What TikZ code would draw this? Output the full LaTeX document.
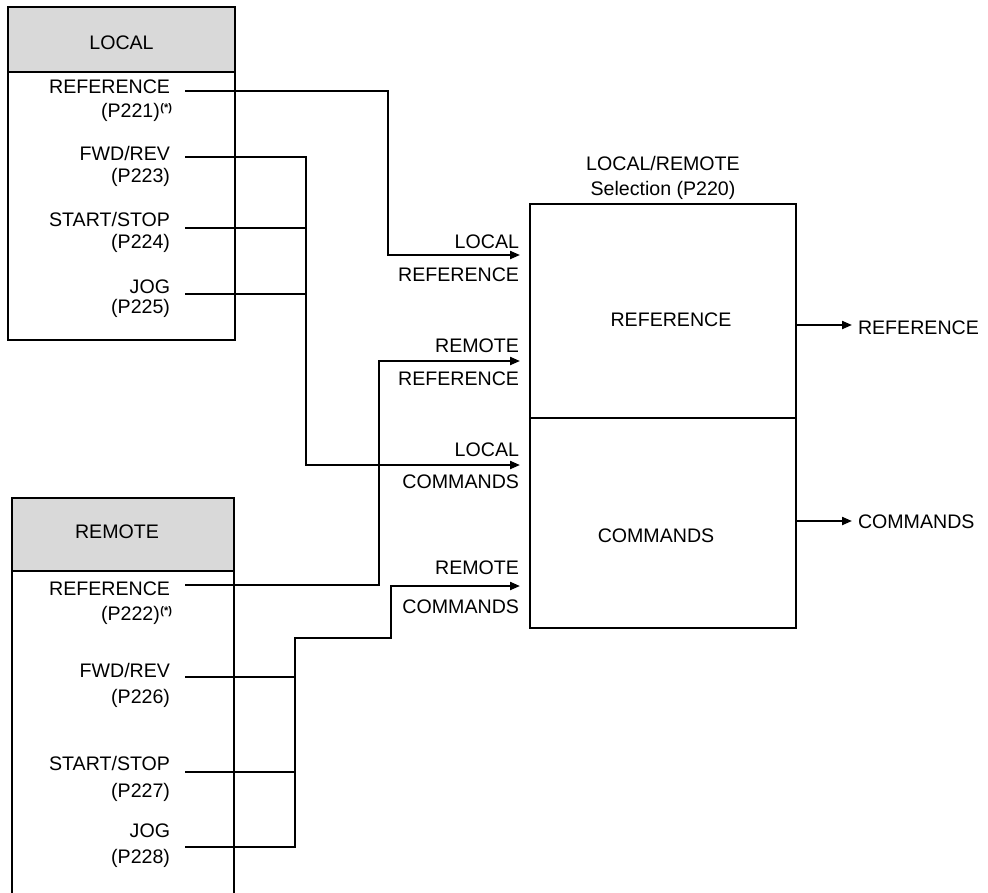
\documentclass[tikz,border=0pt]{standalone}
\usepackage{fontspec}
\setmainfont{Liberation Sans}
\usetikzlibrary{arrows.meta}
\definecolor{hdrgray}{RGB}{217,217,217}
\newcommand{\astnote}{\kern0.5pt\raisebox{6pt}{\fontsize{11}{11}\selectfont\bfseries(*)}}
\begin{document}
\begin{tikzpicture}[x=1pt,y=-1pt,
  every node/.style={inner sep=0pt, outer sep=0pt, font=\fontsize{19.6}{22}\selectfont},
  boxline/.style={line width=2.1pt},
  wire/.style={line width=2.1pt},
  arr/.style={wire,-{Triangle[length=10pt,width=8pt]}},
  hdrbox/.style={draw, boxline, fill=hdrgray, anchor=north west},
  bodybox/.style={draw, boxline, anchor=north west},
  lbl/.style={anchor=base east},
  ctr/.style={anchor=base},
  outlbl/.style={anchor=base west}
]
\useasboundingbox (0,0) rectangle (988,892);

% ---------- LOCAL box ----------
\node[hdrbox, minimum width=227pt, minimum height=65pt] (lochdr) at (8,7) {};
\node[bodybox, minimum width=227pt, minimum height=268pt] (locbody) at (8,72) {};
\node[ctr] (loctitle) at (121.5,49) {LOCAL};
\node[lbl] (l1a) at (170,93) {REFERENCE};
\node[lbl] (l1b) at (172,117) {(P221)\astnote};
\node[lbl] (l2a) at (170,160) {FWD/REV};
\node[lbl] (l2b) at (170,182) {(P223)};
\node[lbl] (l3a) at (170,226) {START/STOP};
\node[lbl] (l3b) at (170,248) {(P224)};
\node[lbl] (l4a) at (170,293) {JOG};
\node[lbl] (l4b) at (170,313) {(P225)};

% ---------- REMOTE box (open at the bottom) ----------
\node[hdrbox, minimum width=222pt, minimum height=73pt] (remhdr) at (12,498) {};
\draw[boxline] (remhdr.south west) -- ++(0,330);
\draw[boxline] (remhdr.south east) -- ++(0,330);
\node[ctr] (remtitle) at (117,538) {REMOTE};
\node[lbl] (r1a) at (170,595) {REFERENCE};
\node[lbl] (r1b) at (172,620) {(P222)\astnote};
\node[lbl] (r2a) at (170,677) {FWD/REV};
\node[lbl] (r2b) at (170,703) {(P226)};
\node[lbl] (r3a) at (170,770) {START/STOP};
\node[lbl] (r3b) at (170,797) {(P227)};
\node[lbl] (r4a) at (170,837) {JOG};
\node[lbl] (r4b) at (170,863) {(P228)};

% ---------- selection box ----------
\node[bodybox, minimum width=266pt, minimum height=214pt] (selref) at (530,204) {};
\node[bodybox, minimum width=266pt, minimum height=210pt] (selcmd) at (530,418) {};
\node[ctr] (selt1) at (663,170) {LOCAL/REMOTE};
\node[ctr] (selt2) at (663,195) {Selection (P220)};
\node[ctr] (selreft) at (671,326) {REFERENCE};
\node[ctr] (selcmdt) at (656,542) {COMMANDS};

% ---------- input labels ----------
\node[lbl] (a1) at (519,248) {LOCAL};
\node[lbl] (a2) at (519,281) {REFERENCE};
\node[lbl] (b1) at (519,352) {REMOTE};
\node[lbl] (b2) at (519,385) {REFERENCE};
\node[lbl] (c1) at (519,456) {LOCAL};
\node[lbl] (c2) at (519,488) {COMMANDS};
\node[lbl] (d1) at (519,574) {REMOTE};
\node[lbl] (d2) at (519,613) {COMMANDS};

% ---------- outputs ----------
\node[outlbl] (outref) at (858,334) {REFERENCE};
\node[outlbl] (outcmd) at (858,528) {COMMANDS};

% ---------- connector points ----------
\coordinate (pL1) at (185,91);
\coordinate (pL2) at (185,157);
\coordinate (pL3) at (185,228);
\coordinate (pL4) at (185,294);
\coordinate (pR1) at (185,585);
\coordinate (pR2) at (185,677);
\coordinate (pR3) at (185,772);
\coordinate (pR4) at (185,847);
\coordinate (cL1) at (388,255);
\coordinate (cL2) at (306,465);
\coordinate (cR1) at (379,361);
\coordinate (cR2) at (295,638);
\coordinate (cR3) at (391,586);
\coordinate (inLR) at (520,255);
\coordinate (inRR) at (520,361);
\coordinate (inLC) at (520,465);
\coordinate (inRC) at (520,586);
\coordinate (oR1) at (796,325);
\coordinate (oR2) at (852,325);
\coordinate (oC1) at (796,521);
\coordinate (oC2) at (852,521);

% ---------- connectors ----------
\draw[arr] (pL1) -| (cL1) -- (inLR);
\draw[arr] (pL2) -| (cL2) -- (inLC);
\draw[wire] (pL3) -- (pL3 -| cL2);
\draw[wire] (pL4) -- (pL4 -| cL2);
\draw[arr] (pR1) -| (cR1) -- (inRR);
\draw[arr] (pR4) -| (cR2) -| (cR3) -- (inRC);
\draw[wire] (pR2) -- (pR2 -| cR2);
\draw[wire] (pR3) -- (pR3 -| cR2);
\draw[arr] (oR1) -- (oR2);
\draw[arr] (oC1) -- (oC2);
\end{tikzpicture}
\end{document}
